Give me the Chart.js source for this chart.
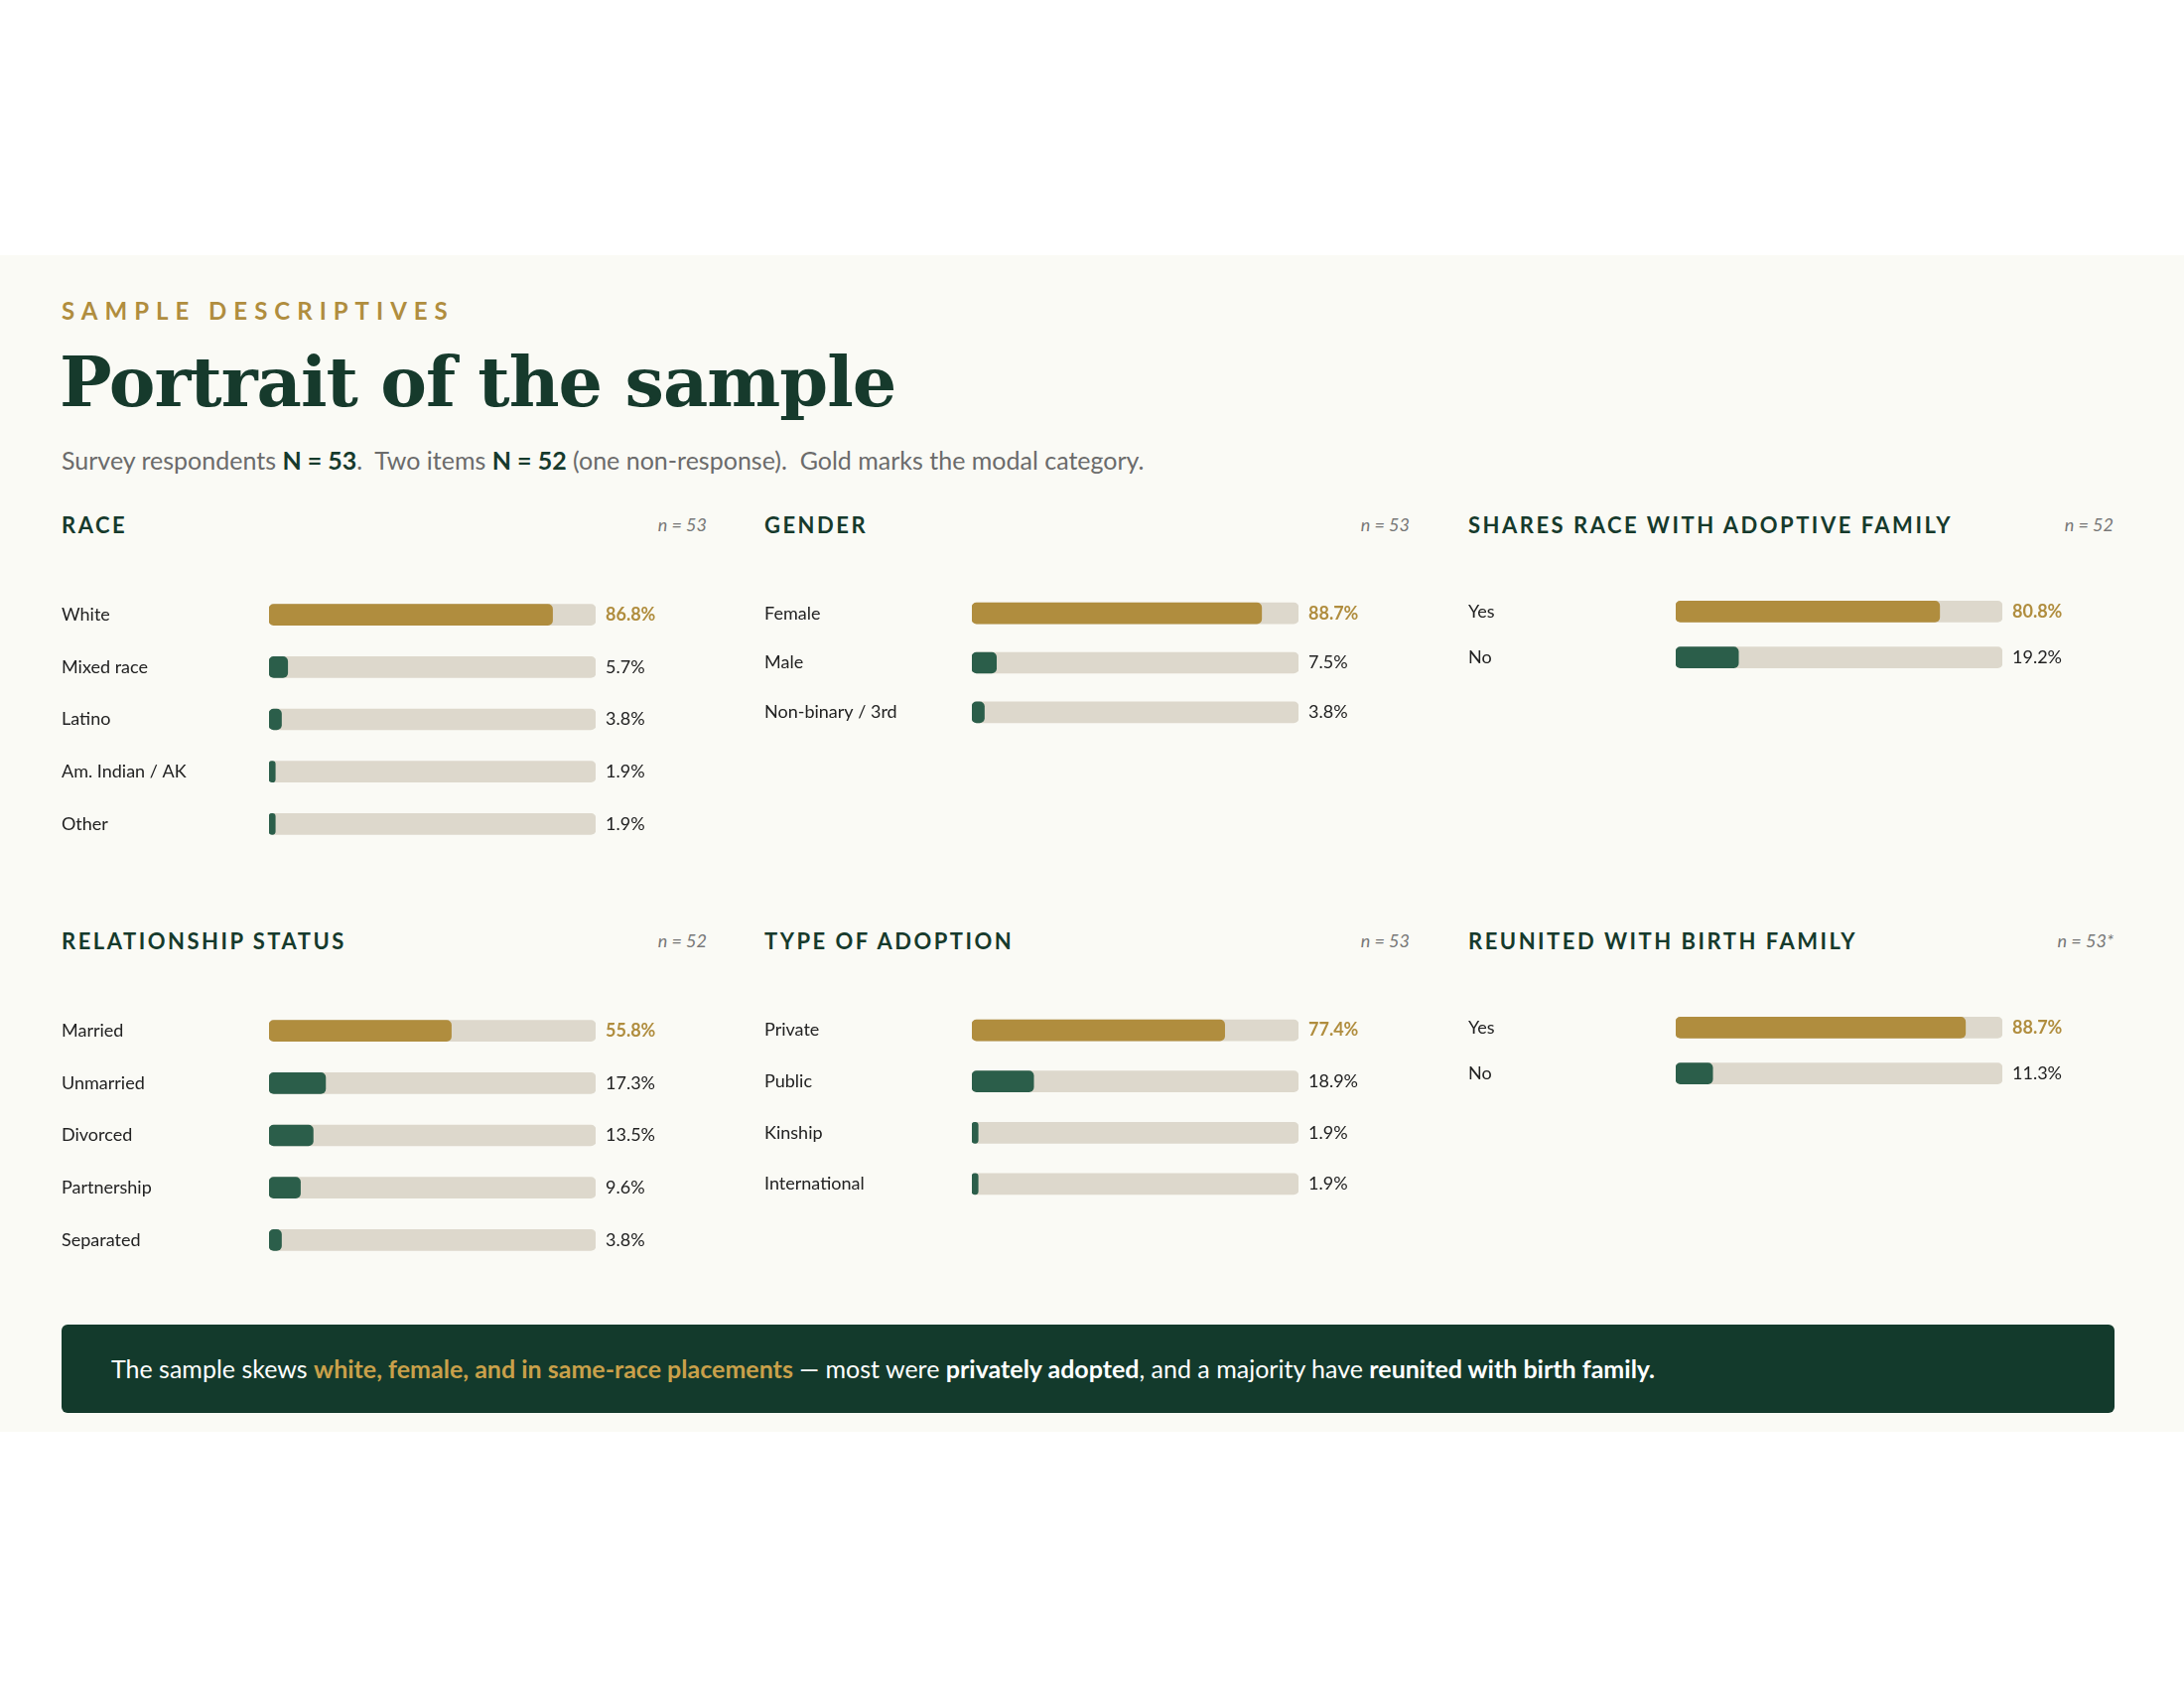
<!DOCTYPE html>
<html>
<head>
<script src="https://cdn.jsdelivr.net/npm/chart.js@4.4.1/dist/chart.umd.min.js"></script>
<style>
  body { margin:0; width:2200px; height:1700px; background:#fff; font-family:Lato, "Open Sans", sans-serif; position:relative; }
  #panel { position:absolute; left:0; top:257px; width:2200px; height:1185px; background:#fafaf5; }
  .abs { position:absolute; }
  .kicker { left:62px; top:298px; color:#b08d3e; font-weight:700; font-size:24px; letter-spacing:7px; }
  .title { left:60px; top:343px; color:#163a2c; font-family:"DejaVu Serif", serif; font-weight:700; font-size:70px; letter-spacing:-1px; }
  .sub { left:62px; top:448px; color:#6b6b6b; font-size:25px; }
  .sub b { color:#163a2c; }
  .ptitle { color:#163a2c; font-weight:700; font-size:22px; letter-spacing:2.5px; }
  .n { color:#777; font-style:italic; font-size:18px; text-align:right; width:120px; }
  .foot { left:62px; top:1334px; width:2068px; height:89px; background:#133a2c; border-radius:6px; color:#fff; font-size:25px; line-height:89px; box-sizing:border-box; padding-left:50px; }
  .foot .g { color:#c9a04a; font-weight:700; }
  canvas { position:absolute; }
</style>
</head>
<body>
<div id="panel"></div>
<div class="abs kicker">SAMPLE DESCRIPTIVES</div>
<div class="abs title">Portrait of the sample</div>
<div class="abs sub">Survey respondents <b>N = 53</b>.&nbsp; Two items <b>N = 52</b> (one non-response).&nbsp; Gold marks the modal category.</div>
<div class="abs foot">The sample skews <span class="g">white, female, and in same-race placements</span> — most were <b>privately adopted</b>, and a majority have <b>reunited with birth family.</b></div>
<script>
const raceLabels = ["White","Mixed race","Latino","Am. Indian / AK","Other"];
const raceValues = [86.8,5.7,3.8,1.9,1.9];
const genderLabels = ["Female","Male","Non-binary / 3rd"];
const genderValues = [88.7,7.5,3.8];
const sharesLabels = ["Yes","No"];
const sharesValues = [80.8,19.2];
const relLabels = ["Married","Unmarried","Divorced","Partnership","Separated"];
const relValues = [55.8,17.3,13.5,9.6,3.8];
const adoptLabels = ["Private","Public","Kinship","International"];
const adoptValues = [77.4,18.9,1.9,1.9];
const reunLabels = ["Yes","No"];
const reunValues = [88.7,11.3];

const panels = [
  {t:"RACE", n:"n = 53", labels:raceLabels, values:raceValues, x:62, y:0},
  {t:"GENDER", n:"n = 53", labels:genderLabels, values:genderValues, x:770, y:0},
  {t:"SHARES RACE WITH ADOPTIVE FAMILY", n:"n = 52", labels:sharesLabels, values:sharesValues, x:1479, y:0},
  {t:"RELATIONSHIP STATUS", n:"n = 52", labels:relLabels, values:relValues, x:62, y:1},
  {t:"TYPE OF ADOPTION", n:"n = 53", labels:adoptLabels, values:adoptValues, x:770, y:1},
  {t:"REUNITED WITH BIRTH FAMILY", n:"n = 53*", labels:reunLabels, values:reunValues, x:1479, y:1}
];
const GOLD="#b08d3e", GREEN="#2b5e4a", TRACK="#ddd8cc", ROW=57;

const valueLabels = {
  id:"valueLabels",
  afterDatasetsDraw(chart){
    const ctx=chart.ctx, ds=chart.data.datasets[1];
    const meta=chart.getDatasetMeta(0);
    const xEnd=chart.scales.x.getPixelForValue(100);
    ds.data.forEach((v,i)=>{
      const top=i===0;
      ctx.save();
      ctx.font=(top?"700 ":"400 ")+"18px Lato, sans-serif";
      ctx.fillStyle=top?GOLD:"#222";
      ctx.textBaseline="middle";
      ctx.fillText(v.toFixed(1)+"%", xEnd+10, meta.data[i].y);
      ctx.restore();
    });
  }
};

panels.forEach(p=>{
  const titleTop = p.y ? 934 : 515;
  const canvasTop = p.y ? 1001 : 582;
  const t=document.createElement("div");
  t.className="abs ptitle"; t.style.left=p.x+"px"; t.style.top=titleTop+"px"; t.textContent=p.t;
  document.body.appendChild(t);
  const n=document.createElement("div");
  n.className="abs n"; n.style.left=(p.x+530)+"px"; n.style.top=(titleTop+2)+"px"; n.textContent=p.n;
  document.body.appendChild(n);
  const c=document.createElement("canvas");
  const h=p.labels.length*ROW;
  c.style.left=p.x+"px"; c.style.top=canvasTop+"px"; c.style.width="650px"; c.style.height=h+"px";
  c.width=650; c.height=h;
  document.body.appendChild(c);
  new Chart(c,{
    type:"bar",
    data:{labels:p.labels,datasets:[
      {data:p.labels.map(()=>100), backgroundColor:TRACK, borderRadius:5, borderSkipped:false, barThickness:21, order:2},
      {data:p.values, backgroundColor:p.values.map((v,i)=>i===0?GOLD:GREEN), borderRadius:5, borderSkipped:false, barThickness:21, order:1}
    ]},
    options:{
      indexAxis:"y", responsive:false, animation:false,
      layout:{padding:{left:0,right:112,top:0,bottom:0}},
      plugins:{legend:{display:false},tooltip:{enabled:false}},
      datasets:{bar:{grouped:false}},
      scales:{
        x:{min:0,max:100,display:false},
        y:{grid:{display:false},border:{display:false},
           afterFit(s){s.width=209;},
           ticks:{crossAlign:"far",color:"#222",padding:0,font:{size:18,family:"Lato, sans-serif"}}}
      }
    },
    plugins:[valueLabels]
  });
});
</script>
</body>
</html>
